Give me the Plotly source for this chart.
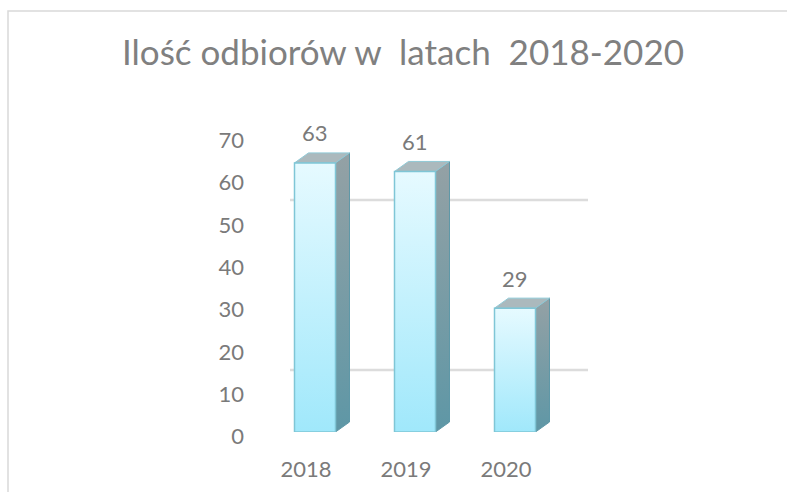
import plotly.graph_objects as go

# ---- data ----
years = ["2018", "2019", "2020"]
values = [63, 61, 29]
y_ticks = [0, 10, 20, 30, 40, 50, 60, 70]
title_text = "Ilość odbiorów w\u00a0 latach\u00a0 2018-2020"

W, H = 787, 492
FONT = "Lato"
GRAY = "#7a7a7a"

# pixel helpers (layout only)
def px_x(p):
    return p / W

def px_y(p):
    return 1 - p / H

half = 0.205          # half width of front face (category units)
dx = 0.14             # depth offset, x (category units)
dy = 2.34             # depth offset, y (data units)

fig = go.Figure()

for i, (yr, v) in enumerate(zip(years, values)):
    xl, xr = i - half, i + half
    # side face
    fig.add_trace(go.Scatter(
        x=[xr, xr + dx, xr + dx, xr, xr],
        y=[0, dy, v + dy, v, 0],
        fill="toself", mode="lines",
        line=dict(color="#5f98a7", width=1),
        fillgradient=dict(type="vertical", start=0, stop=v + dy,
                          colorscale=[[0, "#5e97a6"], [1, "#94a1a5"]]),
        hoverinfo="skip", showlegend=False, xaxis="x", yaxis="y"))
    # top face
    fig.add_trace(go.Scatter(
        x=[xl, xr, xr + dx, xl + dx, xl],
        y=[v, v, v + dy, v + dy, v],
        fill="toself", mode="lines",
        line=dict(color="#8fc9d6", width=1),
        fillcolor="#abb9bd",
        hoverinfo="skip", showlegend=False, xaxis="x", yaxis="y"))
    # front face
    fig.add_trace(go.Scatter(
        x=[xl, xr, xr, xl, xl],
        y=[0, 0, v, v, 0],
        fill="toself", mode="lines",
        line=dict(color="#7fc6d6", width=1.5),
        fillgradient=dict(type="vertical", start=0, stop=v,
                          colorscale=[[0, "#a0e8fb"], [1, "#e6faff"]]),
        hoverinfo="skip", showlegend=False, xaxis="x", yaxis="y",
        name=yr))

# invisible trace to carry the tick-label axis
fig.add_trace(go.Scatter(x=[0], y=[0], mode="markers", marker=dict(opacity=0),
                         hoverinfo="skip", showlegend=False, xaxis="x", yaxis="y2"))

annotations = []
for i, v in enumerate(values):
    annotations.append(dict(x=i, y=v, xref="x", yref="y", text=str(v),
                            showarrow=False, yshift=30,
                            font=dict(family=FONT, size=22, color=GRAY)))

shapes = [
    # chart frame
    dict(type="rect", xref="paper", yref="paper",
         x0=px_x(8), x1=px_x(800), y0=px_y(500), y1=px_y(11),
         line=dict(color="#d9d9d9", width=1.5), layer="below"),
]
for py in (200, 370):
    shapes.append(dict(type="line", xref="paper", yref="paper",
                       x0=px_x(290), x1=px_x(588), y0=px_y(py), y1=px_y(py),
                       line=dict(color="#dcdcdc", width=2.5), layer="below"))

fig.update_layout(
    template="none",
    width=W, height=H,
    margin=dict(l=0, r=0, t=0, b=0, pad=0),
    paper_bgcolor="white", plot_bgcolor="rgba(0,0,0,0)",
    title=dict(text=title_text, x=px_x(403), y=px_y(53), xanchor="center",
               yanchor="middle",
               font=dict(family=FONT, size=35, color="#808080")),
    xaxis=dict(domain=[px_x(215), px_x(615)], range=[-1, 3],
               tickvals=[i - 0.09 for i in range(len(years))], ticktext=years,
               showgrid=False, zeroline=False, showline=False, ticks="",
               automargin=False, ticklabelstandoff=22,
               tickfont=dict(family=FONT, size=22, color=GRAY)),
    yaxis=dict(domain=[1 - 432 / H, 1 - 133 / H], range=[0, 70],
               visible=False, fixedrange=True, automargin=False),
    yaxis2=dict(domain=[1 - 436.5 / H, 1 - 140.5 / H], range=[0, 70],
                anchor="free", position=px_x(244), tickvals=y_ticks,
                showgrid=False, zeroline=False, showline=False, ticks="",
                automargin=False,
                tickfont=dict(family=FONT, size=22, color=GRAY)),
    annotations=annotations,
    shapes=shapes,
)

fig.write_html("out.html", config={"displayModeBar": False},
               post_script="document.body.style.margin='0';")
